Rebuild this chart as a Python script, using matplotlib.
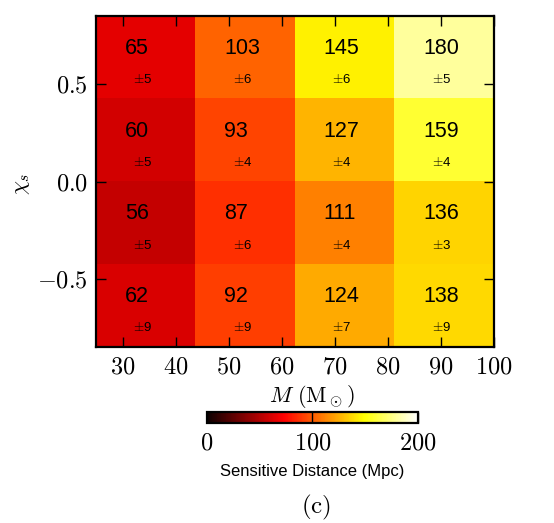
import numpy as np
import matplotlib
matplotlib.use("Agg")
import matplotlib.pyplot as plt

plt.rcParams['mathtext.fontset'] = 'cm'
plt.rcParams['font.family'] = ['Liberation Sans', 'DejaVu Sans']

# total mass bins (Msun) and spin bins
mass_range = [25, 100]
chi_range = [-0.85, 0.85]
mass_ticks = [30, 40, 50, 60, 70, 80, 90, 100]
chi_ticks = [-0.5, 0.0, 0.5]

# sensitive distance (Mpc), rows from top (high chi) to bottom
dist = np.array([
    [65, 103, 145, 180],
    [60, 93, 127, 159],
    [56, 87, 111, 136],
    [62, 92, 124, 138],
])
dist_err = np.array([
    [5, 6, 6, 5],
    [5, 4, 4, 4],
    [5, 6, 4, 3],
    [9, 9, 7, 9],
])

fig = plt.figure(figsize=(5.54, 5.23), dpi=100)
ax = fig.add_axes([0.1733, 0.3365, 0.7184, 0.6329])

im = ax.imshow(dist, cmap='hot', vmin=0, vmax=200, interpolation='nearest',
               extent=mass_range + chi_range, aspect='auto')

nrow, ncol = dist.shape
dx = (mass_range[1] - mass_range[0]) / ncol
dy = (chi_range[1] - chi_range[0]) / nrow
for i in range(nrow):
    for j in range(ncol):
        xc = mass_range[0] + (j + 0.5) * dx
        yc = chi_range[1] - (i + 0.5) * dy
        ax.text(xc - 0.21 * dx, yc + 0.11 * dy, str(dist[i, j]),
                ha='left', va='center', fontsize=15.5)
        ax.text(xc - 0.125 * dx, yc - 0.27 * dy,
                r'$\pm$' + str(dist_err[i, j]),
                ha='left', va='center', fontsize=9.5)

ax.set_xlim(mass_range)
ax.set_ylim(chi_range)
ax.set_xticks(mass_ticks)
ax.set_xticklabels(['$%d$' % m for m in mass_ticks])
ax.set_yticks(chi_ticks)
ax.set_yticklabels(['$%.1f$' % c for c in chi_ticks])
ax.tick_params(direction='in', length=7, width=1, labelsize=17.5,
               top=True, right=True)
ax.tick_params(axis='x', pad=7)
ax.tick_params(axis='y', pad=6)
for s in ax.spines.values():
    s.set_linewidth(1.6)

fig.text(312 / 554, 1 - 396 / 523, r'$M\ (\mathrm{M}_\odot)$',
         ha='center', va='center', fontsize=16)
fig.text(21 / 554, 1 - 184 / 523, r'$\chi_s$', rotation=90,
         ha='center', va='center', fontsize=16)

cax = fig.add_axes([0.373, 0.1918, 0.3814, 0.0205])
cb = fig.colorbar(im, cax=cax, orientation='horizontal', ticks=[0, 100, 200])
cb.ax.set_xticklabels(['$0$', '$100$', '$200$'])
cb.ax.tick_params(direction='in', length=7.7, width=1, labelsize=17.5, pad=7)
cb.outline.set_linewidth(1.6)
cb.set_label('Sensitive Distance (Mpc)', fontsize=12, labelpad=7)

fig.text(316 / 554, 1 - 507 / 523, r'$\mathrm{(c)}$',
         ha='center', va='center', fontsize=18)

fig.savefig('out.png', dpi=100)
